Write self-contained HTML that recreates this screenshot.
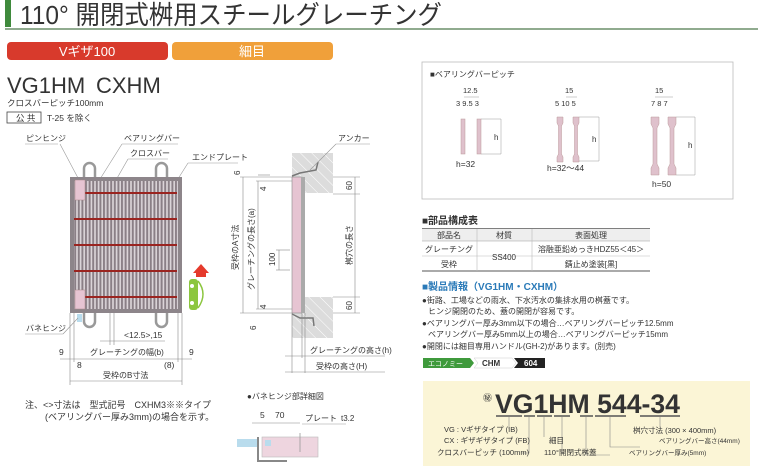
<!DOCTYPE html>
<html><head><meta charset="utf-8"><style>
html,body{margin:0;padding:0;background:#fff}
svg{display:block}
text{font-family:"Liberation Sans","Noto Sans CJK JP",sans-serif;fill:#333}
</style></head><body>
<svg width="760" height="471" viewBox="0 0 760 471" xmlns="http://www.w3.org/2000/svg">
<defs>
<pattern id="bars" x="0" y="0" width="3.6" height="10" patternUnits="userSpaceOnUse"><rect width="3.6" height="10" fill="#8a7f86"/><rect x="0.6" width="1.6" height="10" fill="#ddd6da"/></pattern>
<pattern id="hatch" width="8" height="8" patternUnits="userSpaceOnUse" patternTransform="rotate(-45)"><rect width="8" height="8" fill="#dcdcdc"/><line x1="0" y1="0" x2="0" y2="8" stroke="#fff" stroke-width="1"/></pattern>
</defs>
<!-- title -->
<rect x="5" y="0" width="6" height="27" fill="#3f8a3c"/>
<text x="20" y="24" font-size="26" fill="#222" textLength="422" lengthAdjust="spacingAndGlyphs">110° 開閉式桝用スチールグレーチング</text>
<line x1="5" y1="29" x2="758" y2="29" stroke="#6b8f6a" stroke-width="1.5"/>
<rect x="7" y="42" width="161" height="18" rx="4" fill="#d83a2c"/>
<text x="87" y="56" font-size="13" text-anchor="middle" style="fill:#fff">Vギザ100</text>
<rect x="172" y="42" width="161" height="18" rx="4" fill="#f0a03a"/>
<text x="252" y="56" font-size="13" text-anchor="middle" style="fill:#fff">細目</text>
<text x="7" y="93" font-size="22" fill="#222">VG1HM</text>
<text x="96" y="93" font-size="22" fill="#222">CXHM</text>
<text x="7" y="106" font-size="8.5">クロスバーピッチ100mm</text>
<rect x="7" y="112" width="34" height="11" fill="none" stroke="#444" stroke-width="0.8"/>
<text x="16" y="121" font-size="8.5">公 共</text>
<text x="47" y="121" font-size="8.5">T-25 を除く</text>

<!-- labels -->
<text x="26" y="141" font-size="8">ピンヒンジ</text><line x1="25" y1="144" x2="58" y2="144" stroke="#999" stroke-width="0.6"/><line x1="60" y1="144" x2="78" y2="178" stroke="#999" stroke-width="0.6"/>
<text x="124" y="141" font-size="8">ベアリングバー</text><line x1="122" y1="144" x2="178" y2="144" stroke="#999" stroke-width="0.6"/><line x1="122" y1="144" x2="85" y2="203" stroke="#999" stroke-width="0.6"/>
<text x="130" y="156" font-size="8">クロスバー</text><line x1="128" y1="159" x2="168" y2="159" stroke="#999" stroke-width="0.6"/><line x1="128" y1="159" x2="108" y2="194" stroke="#999" stroke-width="0.6"/>
<text x="192" y="160" font-size="8">エンドプレート</text><line x1="188" y1="163" x2="238" y2="163" stroke="#999" stroke-width="0.6"/><line x1="188" y1="163" x2="176" y2="182" stroke="#999" stroke-width="0.6"/>

<!-- grating -->
<rect x="84" y="163" width="11" height="22" rx="5.5" fill="none" stroke="#999" stroke-width="2.5"/>
<rect x="156" y="163" width="11" height="22" rx="5.5" fill="none" stroke="#999" stroke-width="2.5"/>
<rect x="84" y="305" width="11" height="22" rx="5.5" fill="none" stroke="#999" stroke-width="2.5"/>
<rect x="156" y="305" width="11" height="22" rx="5.5" fill="none" stroke="#999" stroke-width="2.5"/>
<rect x="70" y="177" width="112" height="136" fill="#8d858a"/>
<rect x="74" y="181" width="104" height="128" fill="url(#bars)"/>
<g fill="#9a2420">
<rect x="85" y="192" width="92" height="2"/><rect x="74" y="218" width="103" height="2"/><rect x="74" y="244" width="103" height="2"/><rect x="74" y="270" width="103" height="2"/><rect x="85" y="296" width="92" height="2"/>
</g>
<rect x="75" y="180" width="10" height="20" fill="#e6c4d2" stroke="#a88" stroke-width="0.5"/>
<rect x="75" y="290" width="10" height="19" fill="#e6c4d2" stroke="#a88" stroke-width="0.5"/>
<rect x="77" y="314" width="5" height="8" fill="#b9dced"/>
<!-- car -->
<polygon points="193,273 201,264 209,273" fill="#e53a2c"/>
<rect x="196" y="273" width="10" height="4" fill="#e53a2c"/>
<rect x="189" y="279" width="9" height="31" rx="3" fill="#8cc63f"/>
<path d="M198 281 Q208 294 198 308" fill="none" stroke="#8cc63f" stroke-width="1.5"/>
<circle cx="192" cy="286" r="2" fill="#fff"/><circle cx="192" cy="303" r="2" fill="#fff"/>
<!-- dims bottom -->
<g stroke="#888" stroke-width="0.6">
<line x1="70" y1="313" x2="70" y2="385"/><line x1="74" y1="313" x2="74" y2="362"/>
<line x1="182" y1="313" x2="182" y2="385"/><line x1="178" y1="313" x2="178" y2="362"/>
<line x1="110" y1="313" x2="110" y2="345"/><line x1="114" y1="313" x2="114" y2="345"/>
<line x1="100" y1="341" x2="165" y2="341"/>
<line x1="60" y1="359" x2="192" y2="359"/>
<line x1="70" y1="381" x2="182" y2="381"/>
</g>
<text x="26" y="331" font-size="8">バネヒンジ</text><line x1="25" y1="334" x2="63" y2="334" stroke="#999" stroke-width="0.6"/><line x1="63" y1="334" x2="78" y2="318" stroke="#999" stroke-width="0.6"/>
<text x="124" y="338" font-size="8.5">&lt;12.5&gt;,15</text>
<text x="90" y="355" font-size="8">グレーチングの幅(b)</text>
<text x="59" y="355" font-size="8.5">9</text><text x="189" y="355" font-size="8.5">9</text>
<text x="77" y="368" font-size="8.5">8</text><text x="164" y="368" font-size="8.5">(8)</text>
<text x="103" y="378" font-size="8">受枠のB寸法</text>
<text x="25" y="408" font-size="9">注、&lt;&gt;寸法は　型式記号　CXHM3※※タイプ</text>
<text x="45" y="420" font-size="9">(ベアリングバー厚み3mm)の場合を示す。</text>

<!-- side view -->
<rect x="292" y="153" width="41" height="40" fill="url(#hatch)"/>
<rect x="292" y="297" width="41" height="41" fill="url(#hatch)"/>
<rect x="292" y="177" width="10" height="136" fill="#e6c4d2" stroke="#888" stroke-width="0.6"/>
<rect x="301" y="177" width="4" height="136" fill="#aaa"/>
<path d="M292 176 L300 173 L316 170 L318 162" fill="none" stroke="#777" stroke-width="1.5"/>
<path d="M292 314 L300 318 L313 318 L314 326" fill="none" stroke="#777" stroke-width="1.5"/>
<text x="338" y="141" font-size="8">アンカー</text><line x1="336" y1="144" x2="370" y2="144" stroke="#999" stroke-width="0.6"/><line x1="336" y1="144" x2="310" y2="170" stroke="#999" stroke-width="0.6"/>
<g stroke="#888" stroke-width="0.6">
<line x1="240" y1="177" x2="292" y2="177"/><line x1="240" y1="313" x2="292" y2="313"/>
<line x1="243" y1="177" x2="243" y2="313"/><line x1="258" y1="181" x2="258" y2="309"/>
<line x1="256" y1="181" x2="292" y2="181"/><line x1="256" y1="309" x2="292" y2="309"/>
<line x1="258" y1="175" x2="270" y2="175"/>
<line x1="276" y1="250" x2="290" y2="250"/><line x1="276" y1="270" x2="290" y2="270"/><line x1="279" y1="250" x2="279" y2="270"/>
<line x1="333" y1="177" x2="360" y2="177"/><line x1="333" y1="194" x2="360" y2="194"/><line x1="333" y1="297" x2="360" y2="297"/><line x1="333" y1="313" x2="360" y2="313"/>
<line x1="355" y1="177" x2="355" y2="313"/>
<line x1="292" y1="313" x2="292" y2="373"/><line x1="302" y1="313" x2="302" y2="358"/><line x1="305" y1="313" x2="305" y2="373"/>
<line x1="285" y1="356" x2="385" y2="356"/><line x1="285" y1="372" x2="385" y2="372"/>
</g>
<g font-size="8">
<text transform="translate(240,175) rotate(-90)" font-size="8">6</text>
<text transform="translate(266,191) rotate(-90)">4</text>
<text transform="translate(266,309) rotate(-90)">4</text>
<text transform="translate(256,330) rotate(-90)">6</text>
<text transform="translate(238,270) rotate(-90)">受枠のA寸法</text>
<text transform="translate(254,290) rotate(-90)">グレーチングの長さ(a)</text>
<text transform="translate(275,266) rotate(-90)">100</text>
<text transform="translate(352,190) rotate(-90)">60</text>
<text transform="translate(352,265) rotate(-90)">桝穴の長さ</text>
<text transform="translate(352,310) rotate(-90)">60</text>
<text x="310" y="353">グレーチングの高さ(h)</text>
<text x="316" y="369">受枠の高さ(H)</text>
</g>
<!-- spring hinge detail -->
<text x="247" y="399" font-size="8">●バネヒンジ部詳細図</text>
<text x="260" y="418" font-size="8.5">5</text><text x="275" y="418" font-size="8.5">70</text>
<text x="305" y="421" font-size="8">プレート</text><text x="341" y="421" font-size="8">t3.2</text>
<line x1="252" y1="423" x2="300" y2="423" stroke="#888" stroke-width="0.6"/>
<line x1="302" y1="424" x2="346" y2="424" stroke="#999" stroke-width="0.6"/>
<rect x="262" y="437" width="56" height="20" fill="#eed5df" stroke="#bbb" stroke-width="0.6"/>
<path d="M258 437 L258 461 L287 461" fill="none" stroke="#888" stroke-width="2"/>
<rect x="237" y="439" width="20" height="8" fill="#b9dced"/>
<rect x="265" y="440" width="6" height="6" fill="#b9dced"/>
<line x1="300" y1="433" x2="300" y2="452" stroke="#999" stroke-width="0.8"/>

<!-- bearing bar pitch box -->
<rect x="422" y="62" width="311" height="137" fill="#fff" stroke="#bbb" stroke-width="0.8"/>
<text x="430" y="77" font-size="8">■ベアリングバーピッチ</text>
<g font-size="7.5">
<text x="463" y="93">12.5</text><text x="456" y="106">3 9.5  3</text>
<text x="565" y="93">15</text><text x="555" y="106">5 10 5</text>
<text x="655" y="93">15</text><text x="651" y="106">7  8  7</text>
</g>
<g fill="#dfc1cc" stroke="#b99" stroke-width="0.5">
<rect x="461" y="119" width="4" height="35"/><rect x="477" y="119" width="4" height="35"/>
<path d="M557 117 h6 v6 l-1.5 3 v28 l1.5 3 v5 h-6 v-5 l1.5 -3 v-28 l-1.5 -3z"/>
<path d="M573 117 h6 v6 l-1.5 3 v28 l1.5 3 v5 h-6 v-5 l1.5 -3 v-28 l-1.5 -3z"/>
<path d="M651 117 h8 v7 l-2 4 v36 l2 4 v7 h-8 v-7 l2 -4 v-36 l-2 -4z"/>
<path d="M668 117 h8 v7 l-2 4 v36 l2 4 v7 h-8 v-7 l2 -4 v-36 l-2 -4z"/>
</g>
<g stroke="#999" stroke-width="0.5" fill="none">
<path d="M481 119 h20 v35 h-20"/><path d="M579 117 h20 v44 h-20"/><path d="M676 117 h19 v58 h-19"/>
<line x1="464" y1="97" x2="479" y2="97"/><line x1="566" y1="97" x2="577" y2="97"/><line x1="655" y1="97" x2="673" y2="97"/>
</g>
<g font-size="8"><text x="494" y="140">h</text><text x="592" y="142">h</text><text x="688" y="148">h</text></g>
<text x="456" y="167" font-size="8.5">h=32</text>
<text x="547" y="171" font-size="8.5">h=32〜44</text>
<text x="652" y="187" font-size="8.5">h=50</text>

<!-- parts table -->
<text x="422" y="224" font-size="10" fill="#222" font-weight="bold">■部品構成表</text>
<line x1="422" y1="229" x2="650" y2="229" stroke="#555" stroke-width="1.5"/>
<rect x="422" y="229" width="228" height="12" fill="#eee"/>
<line x1="422" y1="241" x2="650" y2="241" stroke="#999" stroke-width="0.6"/>
<line x1="422" y1="256" x2="650" y2="256" stroke="#bbb" stroke-width="0.6"/>
<line x1="422" y1="271" x2="650" y2="271" stroke="#555" stroke-width="1"/>
<line x1="477" y1="229" x2="477" y2="271" stroke="#bbb" stroke-width="0.6"/>
<line x1="532" y1="229" x2="532" y2="271" stroke="#bbb" stroke-width="0.6"/>
<g font-size="8" text-anchor="middle">
<text x="449" y="238">部品名</text><text x="504" y="238">材質</text><text x="591" y="238">表面処理</text>
<text x="449" y="252">グレーチング</text><text x="449" y="267">受枠</text>
<text x="504" y="260">SS400</text>
<text x="591" y="252">溶融亜鉛めっきHDZ55＜45＞</text><text x="591" y="267">錆止め塗装[黒]</text>
</g>

<!-- product info -->
<text x="422" y="290" font-size="10" font-weight="bold" style="fill:#2a7ab8">■製品情報（VG1HM・CXHM）</text>
<g font-size="8">
<text x="422" y="303">●街路、工場などの雨水、下水汚水の集排水用の桝蓋です。</text>
<text x="428" y="314">ヒンジ開閉のため、蓋の開閉が容易です。</text>
<text x="422" y="326">●ベアリングバー厚み3mm以下の場合…ベアリングバーピッチ12.5mm</text>
<text x="428" y="337">ベアリングバー厚み5mm以上の場合…ベアリングバーピッチ15mm</text>
<text x="422" y="349">●開閉には細目専用ハンドル(GH-2)があります。(別売)</text>
</g>
<polygon points="423,358 470,358 474,363 470,368 423,368" fill="#3f9a3c"/>
<text x="428" y="366" font-size="7" style="fill:#fff">エコノミー</text>
<polygon points="474,358 512,358 516,363 512,368 474,368 478,363" fill="#fff" stroke="#ccc" stroke-width="0.5"/>
<text x="482" y="366" font-size="8" font-weight="bold" fill="#222">CHM</text>
<polygon points="514,358 545,358 545,368 514,368 518,363" fill="#222"/>
<text x="524" y="366" font-size="8" font-weight="bold" style="fill:#fff">604</text>

<!-- model code box -->
<rect x="423" y="381" width="327" height="85" fill="#fbf5d6"/>
<text x="483" y="401" font-size="9">㊙</text>
<text x="495" y="413" font-size="27" font-weight="bold" fill="#222" textLength="185" lengthAdjust="spacingAndGlyphs">VG1HM 544-34</text>
<g stroke="#555" stroke-width="1.5">
<line x1="496" y1="416" x2="522" y2="416"/><line x1="524" y1="416" x2="535" y2="416"/><line x1="537" y1="416" x2="552" y2="416"/><line x1="554" y1="416" x2="570" y2="416"/>
<line x1="580" y1="416" x2="593" y2="416"/><line x1="595" y1="416" x2="626" y2="416"/><line x1="640" y1="416" x2="680" y2="416"/>
</g>
<g stroke="#888" stroke-width="0.6" fill="none">
<path d="M509 417 v12"/><path d="M529 417 v36 h-8"/><path d="M544 417 v20"/><path d="M562 417 v36"/>
<path d="M586 417 v38 h24"/><path d="M610 417 v30 h30"/><path d="M660 417 v10"/>
</g>
<g font-size="7.5">
<text x="444" y="432">VG : Vギザタイプ (IB)</text>
<text x="444" y="443">CX : ギザギザタイプ (FB)</text>
<text x="437" y="455">クロスバーピッチ (100mm)</text>
<text x="549" y="443">細目</text>
<text x="544" y="455">110°開閉式桝蓋</text>
<text x="633" y="433">桝穴寸法 (300 × 400mm)</text>
<text x="659" y="443" font-size="6.5">ベアリングバー高さ(44mm)</text>
<text x="629" y="455" font-size="6.5">ベアリングバー厚み(5mm)</text>
</g>
</svg>
</body></html>
